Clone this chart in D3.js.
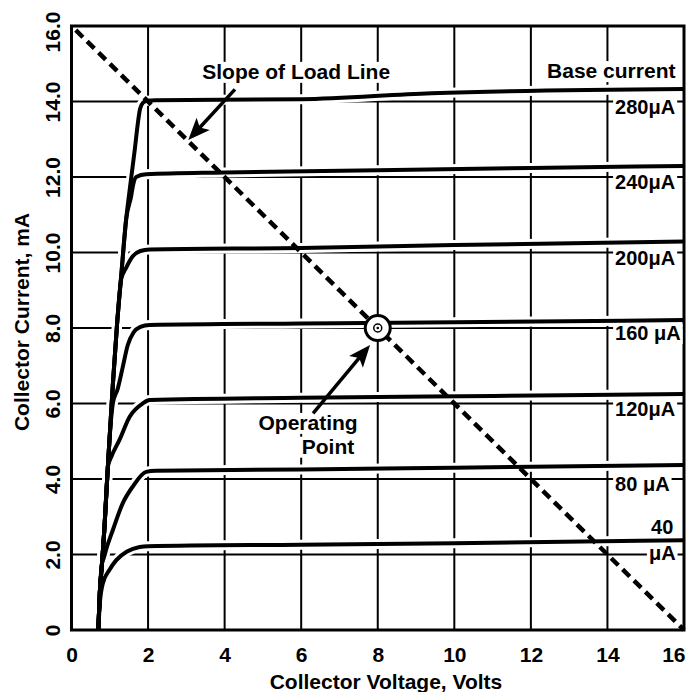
<!DOCTYPE html>
<html>
<head>
<meta charset="utf-8">
<script src="https://cdn.jsdelivr.net/npm/d3@7"></script>
<style>
	body { margin: 0; background: #fff; }
	svg { display: block; font-family: 'Liberation Sans', Arial, sans-serif; font-weight: bold; }
	.tick text { font-size: 21px; font-weight: bold; font-family: 'Liberation Sans', Arial, sans-serif; fill: #000; }
</style>
</head>
<body>
<svg width="693" height="692"></svg>
<script>
// axis ticks
const voltTicks = [0, 2, 4, 6, 8, 10, 12, 14, 16],
	currentTicks = [0, 2, 4, 6, 8, 10, 12, 14, 16];

// base current of each curve (uA) and the label written next to it
const baseCurrents = [40, 80, 120, 160, 200, 240, 280],
	curveLabels = ['40 μA', '80 μA', '120μA', '160 μA', '200μA', '240μA', '280μA'];

// common steep rise all curves share (Volts, mA)
const envelope = [[0.7, 0], [0.74, 1.0], [0.8, 1.8], [0.86, 2.7], [0.92, 3.8], [0.99, 5.0],
	[1.08, 6.5], [1.19, 8.1], [1.3, 9.4], [1.43, 10.9], [1.55, 11.9], [1.65, 12.7],
	[1.73, 13.4], [1.79, 13.8], [1.87, 13.97], [1.97, 14.02]];

// where each curve leaves the rise, its knee and flat part (Volts, mA)
const curve40 = [[0.74, 0.7], [0.82, 1.24], [0.99, 1.59], [1.17, 1.85], [1.45, 2.08], [1.78, 2.2], [2.0, 2.22], [6, 2.26], [10, 2.3], [16, 2.38]],
	curve80 = [[0.84, 1.9], [0.91, 2.15], [1.08, 2.65], [1.34, 3.36], [1.6, 3.8], [1.95, 4.19], [2.2, 4.22], [6, 4.25], [10, 4.3], [16, 4.37]],
	curve120 = [[0.95, 4.33], [1.04, 4.59], [1.25, 5.03], [1.52, 5.65], [1.86, 6.0], [2.04, 6.09], [6, 6.15], [11, 6.2], [16, 6.25]],
	curve160 = [[1.08, 6.0], [1.21, 6.4], [1.34, 6.97], [1.47, 7.55], [1.62, 7.88], [1.8, 8.03], [2.04, 8.08], [6, 8.12], [10, 8.15], [16, 8.21]],
	curve200 = [[1.3, 9.3], [1.43, 9.6], [1.6, 9.9], [1.8, 10.04], [2.04, 10.08], [6, 10.12], [10, 10.2], [16, 10.29]],
	curve240 = [[1.56, 11.5], [1.6, 11.74], [1.69, 12.0], [1.95, 12.07], [4, 12.12], [8, 12.18], [12, 12.24], [16, 12.29]],
	curve280 = [[2.2, 14.03], [6, 14.06], [9.4, 14.22], [16, 14.33]];

// load line end points and operating point
const loadLine = [[0, 16], [16, 0]],
	operatingPoint = [8, 8];

const curveTails = [curve40, curve80, curve120, curve160, curve200, curve240, curve280];

const svg = d3.select('svg');

const xScale = d3.scaleLinear().domain([0, 16]).range([71.5, 684]),
	yScale = d3.scaleLinear().domain([0, 16]).range([630, 26]);

svg.append('rect').attr('width', 693).attr('height', 692).attr('fill', '#fff');

// grid
let grid = svg.append('g');
grid.selectAll('.vg')
	.data(voltTicks.slice(1, -1))
	.enter()
	.append('line')
	.attr('x1', d => xScale(d)).attr('x2', d => xScale(d))
	.attr('y1', yScale(0)).attr('y2', yScale(16))
	.attr('stroke', '#000').attr('stroke-width', 2);
grid.selectAll('.hg')
	.data(currentTicks.slice(1, -1))
	.enter()
	.append('line')
	.attr('x1', xScale(0)).attr('x2', xScale(16))
	.attr('y1', d => yScale(d)).attr('y2', d => yScale(d))
	.attr('stroke', '#000').attr('stroke-width', 2);

// curves = shared rise up to where the curve leaves it, then its own points
let curves = curveTails.map(tail => envelope.filter(p => p[1] < tail[0][1]).concat(tail));
curves[curves.length - 1] = envelope.concat(curve280);

let line = d3.line()
	.x(d => xScale(d[0]))
	.y(d => yScale(d[1]))
	.curve(d3.curveMonotoneX);

svg.append('g').selectAll('path')
	.data(curves)
	.enter()
	.append('path')
	.attr('d', line)
	.attr('fill', 'none')
	.attr('stroke', '#fff')
	.attr('stroke-width', 10);

svg.append('g').selectAll('path')
	.data(curves)
	.enter()
	.append('path')
	.attr('d', line)
	.attr('fill', 'none')
	.attr('stroke', '#000')
	.attr('stroke-width', 4)
	.attr('stroke-linejoin', 'round');

// frame
svg.append('rect')
	.attr('x', xScale(0)).attr('y', yScale(16))
	.attr('width', xScale(16) - xScale(0))
	.attr('height', yScale(0) - yScale(16))
	.attr('fill', 'none')
	.attr('stroke', '#000')
	.attr('stroke-width', 3);

// load line
svg.append('path')
	.attr('d', d3.line().x(d => xScale(d[0])).y(d => yScale(d[1]))(loadLine))
	.attr('stroke', '#000')
	.attr('stroke-width', 4.5)
	.attr('stroke-dasharray', '10,6')
	.attr('stroke-dashoffset', 10);

// operating point
let op = svg.append('g')
	.attr('transform', `translate(${xScale(operatingPoint[0])},${yScale(operatingPoint[1])})`);
op.append('circle').attr('r', 12.5).attr('fill', '#fff').attr('stroke', '#000').attr('stroke-width', 3);
op.append('circle').attr('r', 4).attr('fill', '#fff').attr('stroke', '#000').attr('stroke-width', 1.5);
op.append('circle').attr('r', 1.3).attr('fill', '#000');

// text with a white patch behind it
function label(x, y, txt, anchor, size) {
	let g = svg.append('g');
	let t = g.append('text')
		.attr('x', x).attr('y', y)
		.attr('text-anchor', anchor || 'middle')
		.attr('font-size', size || 21)
		.text(txt);
	let b = t.node().getBBox();
	g.insert('rect', 'text')
		.attr('x', b.x - 2).attr('y', b.y + 2)
		.attr('width', b.width + 4).attr('height', b.height - 2)
		.attr('fill', '#fff');
	return g;
}

// right side curve labels
baseCurrents.forEach((c, i) => {
	let yg = yScale(c / 20);
	if (c === 40) {
		label(xScale(15.72), yg - 21, '40', 'end', 20);
		label(xScale(15.78), yg + 5, 'μA', 'end', 20);
	} else {
		label(xScale(14.2), yg + 12, curveLabels[i], 'start', 20);
	}
});
label(xScale(14.1), yScale(14.62), 'Base current');

// annotations
label(xScale(5.87), yScale(14.6), 'Slope of Load Line');
label(xScale(6.18), yScale(5.3), 'Operating');
label(xScale(6.7), yScale(4.67), 'Point');

// arrows: shaft plus a filled head drawn at the tip
function arrow(from, to) {
	let x1 = xScale(from[0]), y1 = yScale(from[1]),
		x2 = xScale(to[0]), y2 = yScale(to[1]),
		ang = Math.atan2(y2 - y1, x2 - x1) * 180 / Math.PI;
	svg.append('line')
		.attr('x1', x1).attr('y1', y1)
		.attr('x2', x2 - 14 * Math.cos(ang * Math.PI / 180))
		.attr('y2', y2 - 14 * Math.sin(ang * Math.PI / 180))
		.attr('stroke', '#000').attr('stroke-width', 3.5);
	svg.append('path')
		.attr('d', 'M0,0 L-22,-9 L-17,0 L-22,9 z')
		.attr('transform', `translate(${x2},${y2}) rotate(${ang})`)
		.attr('fill', '#000');
}
arrow([4.27, 14.32], [3.05, 12.98]);
arrow([6.31, 5.74], [7.8, 7.55]);

// axes
let xAxis = svg.append('g')
	.attr('transform', `translate(0, ${yScale(0)})`)
	.call(d3.axisBottom(xScale).tickValues(voltTicks).tickSize(0).tickPadding(17).tickFormat(d3.format('d')));
xAxis.select('.domain').remove();
xAxis.selectAll('text').filter(d => d === 16).attr('text-anchor', 'end').attr('dx', 1);

let yAxis = svg.append('g')
	.attr('transform', `translate(${xScale(0)}, 0)`)
	.call(d3.axisLeft(yScale).tickValues(currentTicks).tickSize(0)
		.tickFormat(d => d === 0 ? '0' : d.toFixed(1)));
yAxis.select('.domain').remove();
yAxis.selectAll('text')
	.attr('transform', 'rotate(-90)')
	.attr('text-anchor', 'middle')
	.attr('x', d => d === 16 ? -5.5 : 0)
	.attr('y', -18.5)
	.attr('dy', '0.35em');

// axis titles
svg.append('text')
	.attr('x', 386)
	.attr('y', 689)
	.attr('text-anchor', 'middle')
	.attr('font-size', 21)
	.text('Collector Voltage, Volts');

svg.append('text')
	.attr('transform', 'rotate(-90)')
	.attr('x', -322)
	.attr('y', 29)
	.attr('text-anchor', 'middle')
	.attr('font-size', 21)
	.text('Collector Current, mA');
</script>
</body>
</html>
